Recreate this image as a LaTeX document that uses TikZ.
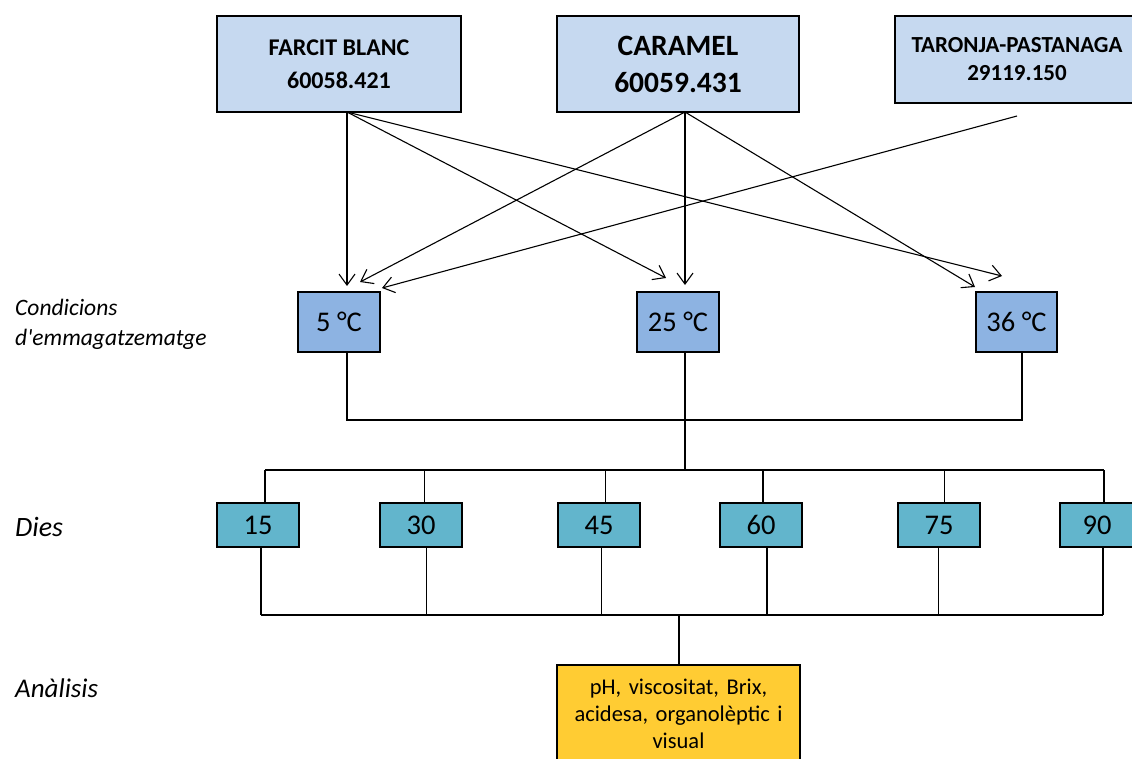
\documentclass[tikz,border=0pt]{standalone}
\usepackage{fontspec}
\setmainfont{Carlito}[Ligatures=TeXOff]
\usetikzlibrary{arrows.meta,positioning,calc}

\definecolor{prodblue}{RGB}{198,217,240}
\definecolor{tempblue}{RGB}{141,179,226}
\definecolor{daycyan}{RGB}{98,181,204}
\definecolor{anagold}{RGB}{255,204,51}

\tikzset{
	prodbox/.style = {rectangle, draw, line width=2pt, fill=prodblue, align=center, inner sep=0pt, outer sep=0pt},
	tempbox/.style = {rectangle, draw, line width=2pt, fill=tempblue, minimum width=82pt, minimum height=60pt,
		inner sep=0pt, outer sep=0pt, font=\fontsize{28.5}{32}\selectfont},
	daybox/.style = {rectangle, draw, line width=2pt, fill=daycyan, minimum width=82pt, minimum height=44pt,
		inner sep=0pt, outer sep=0pt, font=\fontsize{28.5}{32}\selectfont},
	resultbox/.style = {rectangle, draw, line width=2pt, fill=anagold, text width=243pt, align=center,
		inner xsep=0pt, inner ysep=14pt, outer sep=0pt, anchor=north, font=\fontsize{22.5}{27}\selectfont},
	sidetext/.style = {inner sep=0pt, align=left},
	arrowline/.style = {draw, line width=1.1pt, -{Straight Barb[length=11pt,width=16pt]}},
	treeline/.style = {draw, line width=1.6pt}
}

\begin{document}
\begin{tikzpicture}[x=1pt, y=-1pt]
	\useasboundingbox (0,0) rectangle (1132,758);
	
	%products
	\node [prodbox, minimum width=244pt, minimum height=96pt, font=\fontsize{24}{33}\selectfont\bfseries] (farcit) at (339,64) {FARCIT BLANC\\60058.421};
	\node [prodbox, right=96pt of farcit, minimum width=242pt, minimum height=96pt, font=\fontsize{29.5}{37}\selectfont\bfseries] (caramel) {CARAMEL\\60059.431};
	\node [prodbox, right=96pt of caramel.north east, anchor=north west, minimum width=244pt, minimum height=87pt, font=\fontsize{23}{28}\selectfont\bfseries] (taronja) {TARONJA-PASTANAGA\\29119.150};
	
	%storage temperatures
	\node [tempbox] (t5) at (339,322) {5 °C};
	\node [tempbox, right=257pt of t5] (t25) {25 °C};
	\node [tempbox, right=257pt of t25, minimum width=81pt] (t36) {36 °C};
	
	%days
	\node [daybox] (d15) at (258,525) {15};
	\node [daybox, right=81pt of d15] (d30) {30};
	\node [daybox, right=96pt of d30] (d45) {45};
	\node [daybox, right=80pt of d45] (d60) {60};
	\node [daybox, right=96pt of d60] (d75) {75};
	\node [daybox, right=80pt of d75, minimum width=74pt] (d90) {90};
	
	%analyses
	\node [resultbox] (anal) at (678.5,665) {pH, viscositat, Brix,\\acidesa, organolèptic i\\visual};
	
	%row titles
	\node [sidetext, anchor=north west, font=\fontsize{23.5}{30}\selectfont\itshape] (lcond) at (15,298.5) {Condicions\\d'emmagatzematge};
	\node [sidetext, anchor=base west, font=\fontsize{28}{32}\selectfont\itshape] (ldies) at (15,536) {Dies};
	\node [sidetext, anchor=base west, font=\fontsize{27}{32}\selectfont\itshape] (lanal) at (15,697) {Anàlisis};
	
	%arrows to temperatures
	\path [arrowline] ([xshift=8pt]farcit.south) -- ($(t5.north)+(8,-6)$);
	\path [arrowline] ([xshift=8pt]farcit.south) -- ($(t25.north)+(-12,-14)$);
	\path [arrowline] ([xshift=8pt]farcit.south) -- ($(t36.north)+(-14.5,-16)$);
	\path [arrowline] ([xshift=7pt]caramel.south) -- ($(t5.north)+(21,-10)$);
	\path [arrowline] ([xshift=7pt]caramel.south) -- ($(t25.north)+(7,-7)$);
	\path [arrowline] ([xshift=7pt]caramel.south) -- ($(t36.north)+(-41.5,-5)$);
	\path [arrowline] ($(taronja.south)+(0,13)$) -- ($(t5.north)+(43,-4)$);
	
	%temperatures to days
	\coordinate (bus1) at (685,420);
	\coordinate (bus2) at (685,470);
	\path [treeline] ([xshift=8pt]t5.south) |- (bus1) -| ([xshift=5.5pt]t36.south);
	\path [treeline] ([xshift=7pt]t25.south) -- (bus2);
	\path [treeline] ([xshift=7pt]d15.north |- bus2) -- ([xshift=7pt]d90.north |- bus2);
	\foreach \d/\o in {d15/7, d30/3.5, d45/6.5, d60/2, d75/5.5, d90/7}
		\path [treeline] ([xshift=\o pt]\d.north) -- ([xshift=\o pt]\d.north |- bus2);
	
	%days to analyses
	\coordinate (bus3) at (679,615);
	\foreach \d/\o in {d15/3, d30/5.5, d45/2.5, d60/6, d75/-0.5, d90/6}
		\path [treeline] ([xshift=\o pt]\d.south) -- ([xshift=\o pt]\d.south |- bus3);
	\path [treeline] ([xshift=3pt]d15.south |- bus3) -- ([xshift=6pt]d90.south |- bus3);
	\path [treeline] (bus3) -- (bus3 |- anal.north);
	
\end{tikzpicture}
\end{document}
